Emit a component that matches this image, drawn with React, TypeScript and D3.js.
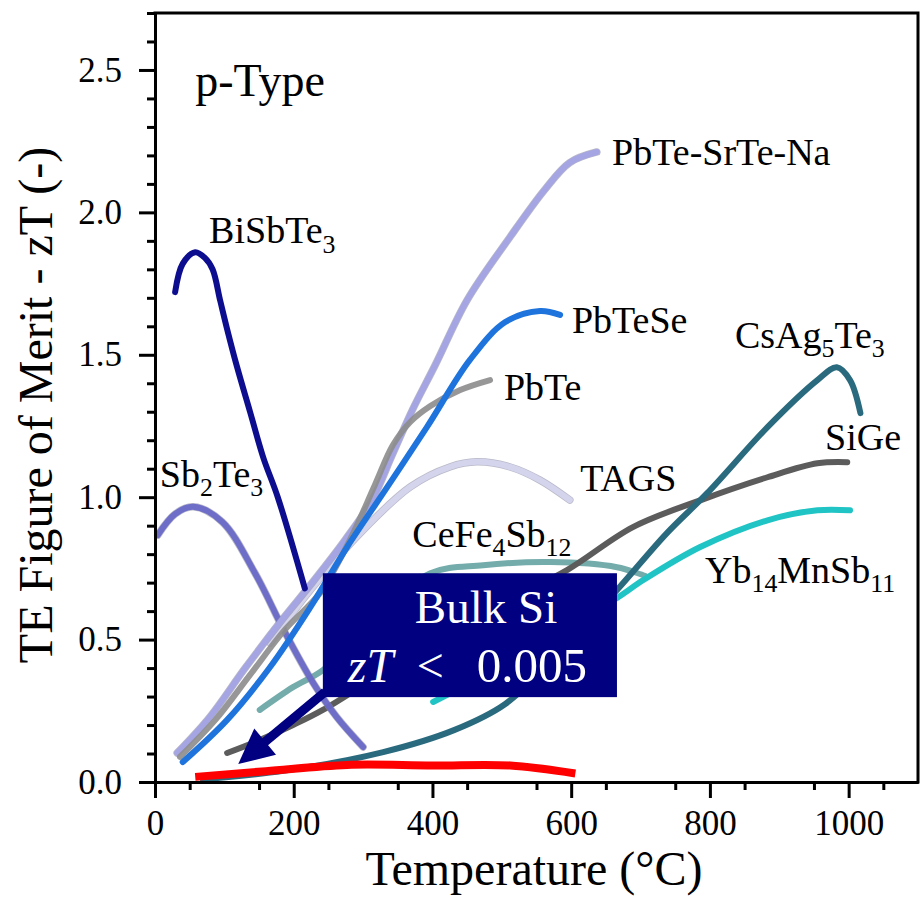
import React, { useEffect, useRef } from 'react';
import * as d3 from 'd3';

// temperature (°C) and zT
const bisbteT = [29, 40, 58, 72, 83, 94, 104, 118, 137, 156, 177, 216];
const bisbteZT = [1.72, 1.82, 1.86, 1.84, 1.8, 1.69, 1.59, 1.46, 1.3, 1.14, 1.0, 0.68];

const sb2te3T = [4, 29, 55, 97, 144, 187, 228, 262, 300];
const sb2te3ZT = [0.867, 0.941, 0.966, 0.913, 0.734, 0.527, 0.348, 0.228, 0.123];

const srteT = [32, 79, 130, 183, 224, 274, 313, 342, 371, 404, 450, 512, 562, 598, 637];
const srteZT = [0.102, 0.228, 0.4, 0.569, 0.692, 0.85, 0.99, 1.148, 1.306, 1.464, 1.692, 1.914, 2.08, 2.175, 2.212];

const pbteseT = [40, 104, 166, 224, 277, 335, 392, 454, 505, 555, 584];
const pbteseZT = [0.07, 0.218, 0.404, 0.614, 0.825, 1.036, 1.246, 1.482, 1.615, 1.654, 1.64];

const pbteT = [36, 87, 137, 187, 238, 281, 317, 343, 368, 397, 440, 483];
const pbteZT = [0.088, 0.218, 0.376, 0.534, 0.664, 0.85, 1.043, 1.183, 1.264, 1.32, 1.376, 1.411];

const tagsT = [166, 224, 296, 368, 425, 464, 512, 555, 598];
const tagsZT = [0.488, 0.674, 0.874, 1.036, 1.106, 1.124, 1.106, 1.06, 0.99];

const cefeT = [151, 199, 242, 317, 397, 473, 570, 666, 707];
const cefeZT = [0.253, 0.333, 0.393, 0.575, 0.733, 0.761, 0.772, 0.754, 0.723];

const sigeT = [104, 151, 199, 242, 353, 497, 594, 689, 786, 883, 955, 998];
const sigeZT = [0.102, 0.147, 0.2, 0.253, 0.421, 0.621, 0.744, 0.895, 0.989, 1.07, 1.119, 1.123];

const csagT = [69, 185, 329, 432, 505, 584, 666, 738, 796, 883, 955, 983, 1002, 1017];
const csagZT = [0.01, 0.039, 0.105, 0.183, 0.274, 0.456, 0.674, 0.874, 1.014, 1.246, 1.411, 1.456, 1.411, 1.295];

const ybT = [401, 498, 598, 666, 704, 786, 883, 955, 1002];
const ybZT = [0.281, 0.404, 0.551, 0.646, 0.709, 0.825, 0.919, 0.954, 0.954];

const siT = [58, 160, 277, 400, 512, 606];
const siZT = [0.018, 0.038, 0.06, 0.058, 0.058, 0.03];

// label text and anchor (T, zT) of its baseline start
const labelNames = ['p-Type', 'PbTe-SrTe-Na', 'BiSbTe3', 'PbTeSe', 'CsAg5Te3', 'PbTe', 'SiGe', 'Sb2Te3', 'TAGS', 'CeFe4Sb12', 'Yb14MnSb11'];
const labelT = [58, 659, 78, 601, 836, 503, 966, 7, 613, 371, 793];
const labelZT = [2.41, 2.168, 1.891, 1.575, 1.523, 1.34, 1.165, 1.035, 1.021, 0.825, 0.698];
const labelSize = [46, 38, 38, 38, 38, 38, 38, 38, 38, 38, 38];

const xMajor = [0, 200, 400, 600, 800, 1000];
const yMajor = [0, 0.5, 1.0, 1.5, 2.0, 2.5];

// annotation: box corners and arrow in data units
const boxT = [242, 666];
const boxZT = [0.298, 0.733];
const arrowTail = [245, 0.316];
const arrowTip = [120, 0.063];

const FONT = '"Liberation Serif", "Times New Roman", serif';

export default function App() {
  const svgRef = useRef<SVGSVGElement>(null);

  useEffect(() => {
    if (!svgRef.current) return;
    const svg = d3.select(svgRef.current);
    svg.selectAll('*').remove();

    const x = d3.scaleLinear().domain([0, 1100]).range([155, 918]);
    const y = d3.scaleLinear().domain([0, 2.7]).range([782, 13]);

    const series = [
      { t: cefeT, z: cefeZT, color: '#5c9c9c', opacity: 0.85 },
      { t: sigeT, z: sigeZT, color: '#5c5c5c', opacity: 1 },
      { t: csagT, z: csagZT, color: '#2a6a7e', opacity: 1 },
      { t: ybT, z: ybZT, color: '#20c4c4', opacity: 1 },
      { t: sb2te3T, z: sb2te3ZT, color: '#6666c8', opacity: 0.9, outline: true },
      { t: tagsT, z: tagsZT, color: '#d4d4ec', opacity: 1, outline: true },
      { t: srteT, z: srteZT, color: '#a5a5e3', opacity: 1, outline: true },
      { t: pbteT, z: pbteZT, color: '#8c8c8c', opacity: 0.9 },
      { t: pbteseT, z: pbteseZT, color: '#1e74dc', opacity: 1 },
      { t: bisbteT, z: bisbteZT, color: '#0d0d8f', opacity: 1 },
    ];

    const line = d3.line<[number, number]>()
      .x(d => x(d[0]))
      .y(d => y(d[1]))
      .curve(d3.curveCatmullRom.alpha(0.5));

    const curves = svg.append('g').attr('fill', 'none').attr('stroke-linecap', 'round').attr('stroke-linejoin', 'round');
    series.forEach(s => {
      const pts = s.t.map((t, i) => [t, s.z[i]] as [number, number]);
      if (s.outline) {
        curves.append('path').attr('d', line(pts)).attr('stroke', '#8a8aa6').attr('stroke-opacity', 0.6).attr('stroke-width', 7.5);
      }
      curves.append('path').attr('d', line(pts)).attr('stroke', s.color).attr('stroke-opacity', s.opacity).attr('stroke-width', 6);
    });

    // bulk Si
    curves.append('path')
      .attr('d', line(siT.map((t, i) => [t, siZT[i]] as [number, number])))
      .attr('stroke', '#ff0000').attr('stroke-width', 8).attr('stroke-linecap', 'butt');

    // axes
    const styleAxis = (g: d3.Selection<SVGGElement, unknown, null, undefined>) => {
      g.select('.domain').attr('stroke-width', 3);
      g.selectAll('.tick line').attr('stroke-width', 3);
      g.selectAll('.tick text').attr('font-family', FONT).attr('font-size', 35).attr('fill', '#000');
    };

    const gx = svg.append('g').attr('transform', `translate(0,${y(0)})`)
      .call(d3.axisBottom(x).tickValues(xMajor).tickSize(16).tickSizeOuter(0).tickPadding(12).tickFormat(d3.format('d')));
    styleAxis(gx);
    const gxm = svg.append('g').attr('transform', `translate(0,${y(0)})`)
      .call(d3.axisBottom(x).tickValues(d3.range(50, 1101, 100)).tickSize(8).tickSizeOuter(0).tickFormat(() => ''));
    styleAxis(gxm);

    const gy = svg.append('g').attr('transform', `translate(${x(0)},0)`)
      .call(d3.axisLeft(y).tickValues(yMajor).tickSize(16).tickSizeOuter(0).tickPadding(17).tickFormat(d3.format('.1f')));
    styleAxis(gy);
    const yMinor = d3.range(1, 28).map(i => i / 10).filter(v => Math.abs(v * 2 - Math.round(v * 2)) > 1e-6);
    const gym = svg.append('g').attr('transform', `translate(${x(0)},0)`)
      .call(d3.axisLeft(y).tickValues(yMinor).tickSize(8).tickSizeOuter(0).tickFormat(() => ''));
    styleAxis(gym);

    // frame top/right
    svg.append('path')
      .attr('d', `M${x(0)},${y(2.7)}H${x(1100)}V${y(0)}`)
      .attr('fill', 'none').attr('stroke', '#000').attr('stroke-width', 3).attr('stroke-linecap', 'square');

    // axis titles
    svg.append('text')
      .attr('x', 534).attr('y', 885)
      .attr('text-anchor', 'middle').attr('font-family', FONT).attr('font-size', 48)
      .text('Temperature (°C)');
    svg.append('text')
      .attr('transform', 'translate(52,405) rotate(-90)')
      .attr('text-anchor', 'middle').attr('font-family', FONT).attr('font-size', 48)
      .text('TE Figure of Merit - zT (-)');

    // curve labels, digits as subscripts
    labelNames.forEach((name, i) => {
      const size = labelSize[i];
      const txt = svg.append('text')
        .attr('x', x(labelT[i])).attr('y', y(labelZT[i]))
        .attr('font-family', FONT).attr('font-size', size).attr('fill', '#000');
      let sub = false;
      name.split(/(\d+)/).filter(p => p.length).forEach(part => {
        const isNum = /^\d+$/.test(part);
        const ts = txt.append('tspan').text(part);
        if (isNum) {
          ts.attr('font-size', size * 0.68).attr('dy', sub ? 0 : size * 0.24);
          sub = true;
        } else {
          ts.attr('dy', sub ? -size * 0.24 : 0);
          sub = false;
        }
      });
    });

    // annotation arrow
    const tx = x(arrowTail[0]), ty = y(arrowTail[1]);
    const px = x(arrowTip[0]), py = y(arrowTip[1]);
    const len = Math.hypot(px - tx, py - ty);
    const ux = (px - tx) / len, uy = (py - ty) / len;
    const headLen = 35, headHalf = 17;
    const bx = px - ux * headLen, by = py - uy * headLen;
    svg.append('line')
      .attr('x1', tx).attr('y1', ty).attr('x2', bx + ux * 2).attr('y2', by + uy * 2)
      .attr('stroke', '#000080').attr('stroke-width', 9);
    svg.append('path')
      .attr('d', `M${px},${py}L${bx - uy * headHalf},${by + ux * headHalf}L${bx + uy * headHalf},${by - ux * headHalf}Z`)
      .attr('fill', '#000080');

    // annotation box
    const bx0 = x(boxT[0]), bx1 = x(boxT[1]);
    const by0 = y(boxZT[1]), by1 = y(boxZT[0]);
    svg.append('rect')
      .attr('x', bx0).attr('y', by0).attr('width', bx1 - bx0).attr('height', by1 - by0)
      .attr('fill', '#000080');
    svg.append('text')
      .attr('x', bx0 + 92).attr('y', by0 + 50)
      .attr('font-family', FONT).attr('font-size', 47).attr('fill', '#fff')
      .text('Bulk Si');
    svg.append('text')
      .attr('x', bx0 + 25).attr('y', by0 + 109)
      .attr('font-family', FONT).attr('font-size', 48).attr('font-style', 'italic').attr('fill', '#fff')
      .text('zT');
    svg.append('text')
      .attr('x', bx0 + 94).attr('y', by0 + 109)
      .attr('font-family', FONT).attr('font-size', 48).attr('fill', '#fff')
      .text('<');
    svg.append('text')
      .attr('x', bx0 + 154).attr('y', by0 + 109)
      .attr('font-family', FONT).attr('font-size', 49).attr('fill', '#fff')
      .text('0.005');
  }, []);

  return (
    <svg
      ref={svgRef}
      width={920}
      height={899}
      style={{ position: 'absolute', left: 0, top: 0, background: '#fff' }}
    />
  );
}
